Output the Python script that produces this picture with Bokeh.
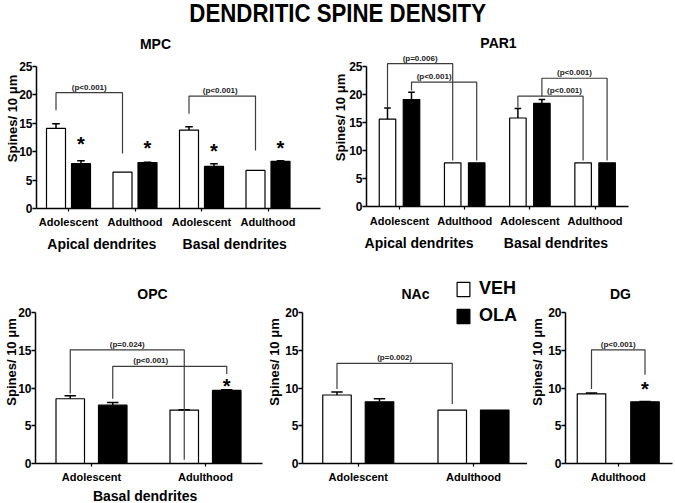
from bokeh.plotting import figure
from bokeh.models import Range1d, FixedTicker, LinearAxis, Label, Legend, LegendItem, Div
from bokeh.layouts import row, column
from bokeh.embed import file_html
from bokeh.resources import INLINE
from bokeh.core.properties import value

FONT = "Liberation Sans"

# ------------------------------------------------------------------ data
mpc_ages = ["Adolescent", "Adulthood", "Adolescent", "Adulthood"]
mpc_regions = ["Apical dendrites", "Basal dendrites"]
mpc_veh = [14.1, 6.4, 13.8, 6.7]
mpc_veh_err = [0.8, 0.0, 0.6, 0.0]
mpc_ola = [7.9, 8.1, 7.4, 8.3]
mpc_ola_err = [0.5, 0.05, 0.5, 0.1]
mpc_star = [12.0, 11.4, 10.8, 11.4]

par1_ages = ["Adolescent", "Adulthood", "Adolescent", "Adulthood"]
par1_regions = ["Apical dendrites", "Basal dendrites"]
par1_veh = [15.6, 7.8, 15.8, 7.8]
par1_veh_err = [2.0, 0.0, 1.7, 0.0]
par1_ola = [19.1, 7.8, 18.4, 7.8]
par1_ola_err = [1.3, 0.0, 0.7, 0.0]
par1_star = [None, None, None, None]

opc_ages = ["Adolescent", "Adulthood"]
opc_regions = ["Basal dendrites"]
opc_veh = [8.6, 7.1]
opc_veh_err = [0.4, 0.05]
opc_ola = [7.75, 9.7]
opc_ola_err = [0.35, 0.1]
opc_star = [None, 10.8]

nac_ages = ["Adolescent", "Adulthood"]
nac_veh = [9.1, 7.1]
nac_veh_err = [0.4, 0.0]
nac_ola = [8.2, 7.1]
nac_ola_err = [0.4, 0.0]
nac_star = [None, None]

dg_ages = ["Adulthood"]
dg_veh = [9.25]
dg_veh_err = [0.1]
dg_ola = [8.2]
dg_ola_err = [0.05]
dg_star = [10.4]

# significance brackets: (left group, left series, right group, right series,
#                         top, left leg end, right leg end, text, text shift px)
mpc_brackets = [
    (0, "VEH", 1, "VEH", 20.4, 17.3, 9.7, "(p<0.001)", 0),
    (2, "VEH", 3, "VEH", 19.8, 16.7, 10.2, "(p<0.001)", -2),
]
par1_brackets = [
    (0, "VEH", 1, "VEH", 25.5, 17.7, 8.2, "(p=0.006)", 0),
    (0, "OLA", 1, "OLA", 22.2, 20.7, 8.2, "(p<0.001)", -10),
    (2, "VEH", 3, "VEH", 19.7, 17.7, 8.2, "(p<0.001)", 14),
    (2, "OLA", 3, "OLA", 22.9, 19.7, 8.2, "(p<0.001)", 0),
]
opc_brackets = [
    (0, "VEH", 1, "VEH", 15.1, 9.3, 0.5, "(p=0.024)", 0),
    (0, "OLA", 1, "OLA", 12.9, 8.6, 11.9, "(p<0.001)", -19),
]
nac_brackets = [
    (0, "VEH", 1, "VEH", 13.3, 9.9, 7.9, "(p=0.002)", 0),
]
dg_brackets = [
    (0, "VEH", 0, "OLA", 15.1, 9.9, 11.8, "(p<0.001)", 0),
]

# ------------------------------------------------------------------ layout (pixels)
TOP_Y0, BOT_Y0 = 28, 260
cfg_mpc = dict(title="MPC", fig_left=0, top=TOP_Y0, bl=36, fw=294, pair0=68, unit=66.5,
               off=12.5, bar=19, axis_end=320, y0=208, ppu=5.68, bb=52, ymax=25,
               group_ticks=[0.5, 2.5], title_px=(155, 43), tick_sd=4, grp_sd=5, ls=-4)
cfg_par1 = dict(title="PAR1", fig_left=330, top=TOP_Y0, bl=35, fw=310, pair0=398, unit=65.2,
                off=12, bar=16.5, axis_end=627, y0=206, ppu=5.6, bb=54, ymax=25,
                group_ticks=[0.3, 2.4], title_px=(497, 42), tick_sd=5, grp_sd=5, ls=-2)
cfg_opc = dict(title="OPC", fig_left=0, top=BOT_Y0, bl=35, fw=229, pair0=91, unit=114,
               off=21.25, bar=28.5, axis_end=262, y0=463, ppu=7.53, bb=38, ymax=20,
               group_ticks=[0.47], title_px=(152, 293), tick_sd=4, grp_sd=2, ls=-4)
cfg_nac = dict(title="NAc", fig_left=264, top=BOT_Y0, bl=37, fw=225, pair0=356.75, unit=115.25,
               off=21.25, bar=28.5, axis_end=526, y0=463, ppu=7.53, bb=38, ymax=20,
               group_ticks=None, title_px=(414, 293), tick_sd=4, grp_sd=2, ls=0)
cfg_dg = dict(title="DG", fig_left=526, top=BOT_Y0, bl=37, fw=110, pair0=615.75, unit=133.75,
              off=26.75, bar=28.5, axis_end=670, y0=463, ppu=7.53, bb=38, ymax=20,
              group_ticks=None, title_px=(618, 293), tick_sd=4, grp_sd=2, ls=0)


def make_panel(cfg, ages, regions, veh, veh_err, ola, ola_err, stars, brackets):
    unit = cfg["unit"]
    frame_left = cfg["fig_left"] + cfg["bl"]
    x_start = (frame_left - cfg["pair0"]) / unit
    fh = cfg["y0"] - cfg["top"]
    y_end = fh / cfg["ppu"]
    off = cfg["off"] / unit
    bw = cfg["bar"] / unit

    p = figure(frame_width=cfg["fw"], frame_height=fh,
               x_range=Range1d(x_start, x_start + cfg["fw"] / unit),
               y_range=Range1d(0, y_end),
               output_backend="svg", toolbar_location=None,
               min_border_left=cfg["bl"], min_border_right=0,
               min_border_top=0, min_border_bottom=cfg["bb"])
    p.outline_line_color = None
    p.xgrid.visible = False
    p.ygrid.visible = False
    p.background_fill_color = "white"
    p.border_fill_color = "white"

    n = len(ages)
    idx = list(range(n))
    xv = [i - off for i in idx]
    xo = [i + off for i in idx]
    r_veh = p.vbar(x=xv, top=veh, width=bw, bottom=0, fill_color="white",
                   line_color="black", line_width=1.2)
    r_ola = p.vbar(x=xo, top=ola, width=bw, bottom=0, fill_color="black",
                   line_color="black", line_width=1.2)

    # upper error bars
    cw = bw * 0.4
    for xs, tops, errs in ((xv, veh, veh_err), (xo, ola, ola_err)):
        ex, et, eu = [], [], []
        for x, t, e in zip(xs, tops, errs):
            if e > 0.02:
                ex.append(x); et.append(t); eu.append(t + e)
        if ex:
            p.segment(x0=ex, y0=et, x1=ex, y1=eu, line_color="black", line_width=1.5)
            p.segment(x0=[x - cw / 2 for x in ex], y0=eu, x1=[x + cw / 2 for x in ex],
                      y1=eu, line_color="black", line_width=1.5)

    # brackets
    def bx(g, s):
        return g - off if s == "VEH" else g + off
    bxs, bys, tx, ty, tt = [], [], [], [], []
    for (g1, s1, g2, s2, top, lb, rb, txt, sh) in brackets:
        x1, x2 = bx(g1, s1), bx(g2, s2)
        bxs.append([x1, x1, x2, x2])
        bys.append([lb, top, top, rb])
        tx.append((x1 + x2) / 2 + sh / unit)
        ty.append(top)
        tt.append(txt)
    if bxs:
        p.multi_line(xs=bxs, ys=bys, line_color="#3c3c3c", line_width=1.2)
        p.text(x=tx, y=ty, text=tt, text_font=value(FONT), text_font_size="8px",
               text_font_style="bold", text_align="center", text_baseline="bottom",
               y_offset=-1, text_color="#222222")

    # significance stars over OLA bars
    sx = [xo[i] for i in idx if stars[i] is not None]
    sy = [stars[i] for i in idx if stars[i] is not None]
    if sx:
        p.text(x=sx, y=sy, text=["*"] * len(sx), text_font=value(FONT),
               text_font_size="20px", text_font_style="bold", text_align="center",
               text_baseline="middle", y_offset=4, text_color="black")

    # panel title
    tx_px, ty_px = cfg["title_px"]
    p.add_layout(Label(x=(tx_px - cfg["pair0"]) / unit, y=(cfg["y0"] - ty_px) / cfg["ppu"],
                       text=cfg["title"], text_font=FONT, text_font_size="14px",
                       text_font_style="bold", text_align="center",
                       text_baseline="middle", text_color="black"))

    # y axis
    ya = p.yaxis[0]
    ya.ticker = FixedTicker(ticks=list(range(0, cfg["ymax"] + 1, 5)))
    ya.bounds = (0, cfg["ymax"])
    ya.axis_line_width = 1.5
    ya.axis_line_color = "black"
    ya.major_tick_line_color = "black"
    ya.major_tick_line_width = 1.5
    ya.major_tick_out = 4
    ya.major_tick_in = 0
    ya.minor_tick_line_color = None
    ya.major_label_standoff = 0
    ya.major_label_text_font = FONT
    ya.major_label_text_font_size = "12px"
    ya.major_label_text_font_style = "bold"
    ya.major_label_text_color = "black"
    ya.axis_label = "Spines/ 10 μm"
    ya.axis_label_standoff = cfg["ls"]
    ya.axis_label_text_font = FONT
    ya.axis_label_text_font_size = "13px"
    ya.axis_label_text_font_style = "bold"
    ya.axis_label_text_color = "black"

    # x axis
    xa = p.xaxis[0]
    xa.ticker = FixedTicker(ticks=idx)
    xa.major_label_overrides = {i: ages[i] for i in idx}
    xa.bounds = (x_start, (cfg["axis_end"] - cfg["pair0"]) / unit)
    xa.axis_line_width = 1.5
    xa.axis_line_color = "black"
    xa.major_tick_line_color = "black"
    xa.major_tick_line_width = 1.2
    xa.major_tick_out = 3
    xa.major_tick_in = 0
    xa.minor_tick_line_color = None
    xa.major_label_standoff = cfg["tick_sd"]
    xa.major_label_text_font = FONT
    xa.major_label_text_font_size = "11px"
    xa.major_label_text_font_style = "bold"
    xa.major_label_text_color = "black"

    if cfg["group_ticks"]:
        ga = LinearAxis(ticker=FixedTicker(ticks=cfg["group_ticks"]),
                        major_label_overrides={t: r for t, r in zip(cfg["group_ticks"], regions)},
                        axis_line_color=None, major_tick_line_color=None,
                        minor_tick_line_color=None, major_tick_out=0, major_tick_in=0,
                        major_label_standoff=cfg["grp_sd"], major_label_text_font=FONT,
                        major_label_text_font_size="14px", major_label_text_font_style="bold",
                        major_label_text_color="black")
        p.add_layout(ga, "below")
    return p, r_veh, r_ola


p_mpc, _, _ = make_panel(cfg_mpc, mpc_ages, mpc_regions, mpc_veh, mpc_veh_err,
                         mpc_ola, mpc_ola_err, mpc_star, mpc_brackets)
p_par1, _, _ = make_panel(cfg_par1, par1_ages, par1_regions, par1_veh, par1_veh_err,
                          par1_ola, par1_ola_err, par1_star, par1_brackets)
p_opc, _, _ = make_panel(cfg_opc, opc_ages, opc_regions, opc_veh, opc_veh_err,
                         opc_ola, opc_ola_err, opc_star, opc_brackets)
p_nac, rv, ro = make_panel(cfg_nac, nac_ages, [], nac_veh, nac_veh_err,
                           nac_ola, nac_ola_err, nac_star, nac_brackets)
p_dg, _, _ = make_panel(cfg_dg, dg_ages, [], dg_veh, dg_veh_err,
                        dg_ola, dg_ola_err, dg_star, dg_brackets)

# legend: bottom-left corner given relative to the NAc frame's bottom-left
legend = Legend(items=[LegendItem(label="VEH", renderers=[rv]),
                       LegendItem(label="OLA", renderers=[ro])],
                location=(454 - 301, 463 - 326),
                orientation="vertical", padding=0, margin=0, spacing=6,
                glyph_width=16, glyph_height=18, label_height=18, label_standoff=8,
                label_text_font=FONT, label_text_font_size="18px",
                label_text_font_style="bold", label_text_color="black",
                label_text_baseline="middle",
                border_line_color=None, background_fill_alpha=0)
p_nac.add_layout(legend)

title = Div(text='<div style="width:675px; text-align:center;">'
                 '<span style="display:inline-block; transform:scaleX(0.89);">'
                 'DENDRITIC SPINE DENSITY</span></div>',
            width=675, height=28, margin=(0, 0, 0, 0),
            styles={"font-family": "'Liberation Sans', Arial, sans-serif",
                    "font-size": "25px", "font-weight": "bold",
                    "line-height": "26px", "color": "black", "overflow": "visible"})

root = column(title, row(p_mpc, p_par1), row(p_opc, p_nac, p_dg),
              styles={"margin": "0px"})

open("out.html", "w").write(file_html(root, INLINE))
